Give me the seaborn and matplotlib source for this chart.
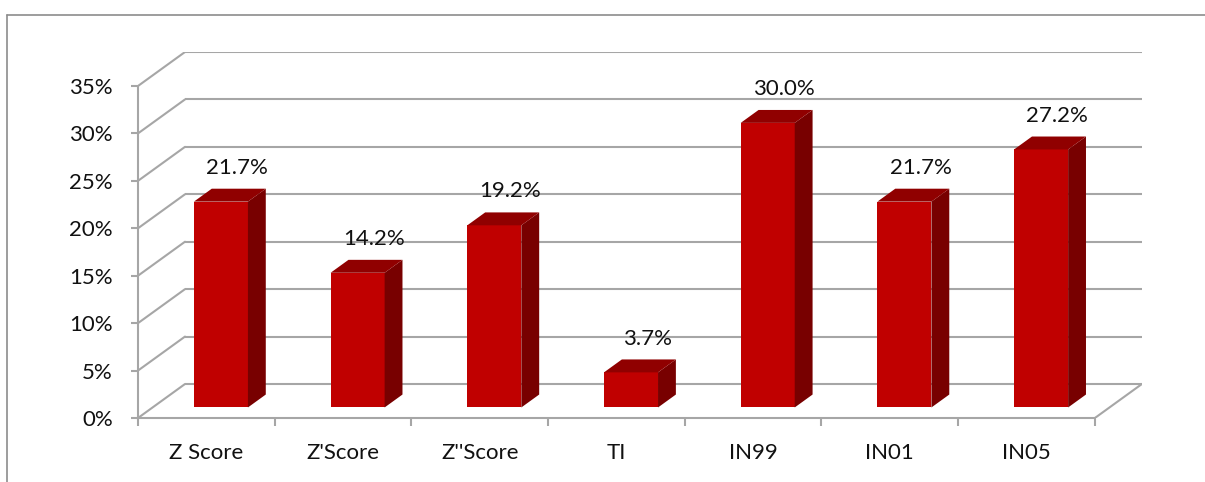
import numpy as np
import matplotlib
matplotlib.use('Agg')
import matplotlib.pyplot as plt
import seaborn as sns
from matplotlib.patches import Polygon
from matplotlib.lines import Line2D
from matplotlib.ticker import FixedLocator

categories = ["Z Score", "Z'Score", "Z''Score", "TI", "IN99", "IN01", "IN05"]
values = [21.7, 14.2, 19.2, 3.7, 30.0, 21.7, 27.2]
y_ticks = [0, 5, 10, 15, 20, 25, 30, 35]
y_tick_labels = [f"{t}%" for t in y_ticks]
value_labels = [f"{v:.1f}%" for v in values]

sns.set_style('white')
plt.rcParams['font.family'] = ['Lato', 'DejaVu Sans']

W, H = 1205, 482
fig = plt.figure(figsize=(W / 100, H / 100), dpi=100)

# pixel geometry of the pseudo-3D frame
x0px, y0px = 138, 418
unit_px = 136.7
pct_px = 47.43 / 5
dxpx, dypx = 47, 34
D = dxpx / unit_px
E = dypx / pct_px
n = len(categories)
ymax = 35
ax = fig.add_axes([x0px / W, (H - y0px) / H,
                   (n * unit_px + dxpx) / W, (ymax * pct_px + dypx) / H])

gc = '#a6a6a6'
glw = 1.5
front_c = '#C00000'
top_c = '#900000'
side_c = '#780000'
text_c = '#111111'
fs = 16

# back wall + left wall grid
for t in y_ticks:
    ax.plot([-0.5 + D, n - 0.5 + D], [t + E, t + E], color=gc, lw=glw, zorder=0,
            solid_capstyle='butt')
    ax.plot([-0.5, -0.5 + D], [t, t + E], color=gc, lw=glw, zorder=0)
# floor right edge
ax.plot([n - 0.5, n - 0.5 + D], [0, E], color=gc, lw=glw, zorder=0)

# bars
bw = 54 / unit_px
f = 0.31
s = 0.38
sns.barplot(x=categories, y=values, color=front_c, saturation=1, width=bw,
            ax=ax, zorder=3, linewidth=0)
for p, lab in zip(ax.patches, value_labels):
    p.set_x(p.get_x() + f * D)
    p.set_y(f * E)
    xl = p.get_x()
    xr = xl + p.get_width()
    yb = p.get_y()
    yt = yb + p.get_height()
    side = Polygon([(xr, yb), (xr + s * D, yb + s * E), (xr + s * D, yt + s * E), (xr, yt)],
                   closed=True, facecolor=side_c, edgecolor='none', zorder=3)
    top = Polygon([(xl, yt), (xl + s * D, yt + s * E), (xr + s * D, yt + s * E), (xr, yt)],
                  closed=True, facecolor=top_c, edgecolor='none', zorder=3)
    ax.add_patch(side)
    ax.add_patch(top)
    ax.text((xl + xr) / 2 + s * D * 0.9, yt + s * E + 1.15, lab, ha='center', va='bottom',
            fontsize=fs, color=text_c, zorder=4)

ax.set_xlim(-0.5, n - 0.5 + D)
ax.set_ylim(0, ymax + E)

for sp in ['top', 'right']:
    ax.spines[sp].set_visible(False)
for sp in ['left', 'bottom']:
    ax.spines[sp].set_visible(True)
    ax.spines[sp].set_color(gc)
    ax.spines[sp].set_linewidth(glw)
    ax.spines[sp].set_zorder(1)
ax.spines['left'].set_bounds(0, ymax)
ax.spines['bottom'].set_bounds(-0.5, n - 0.5)

ax.set_yticks(y_ticks)
ax.set_yticklabels(y_tick_labels)
ax.tick_params(axis='y', left=True, length=5, width=glw, color=gc, pad=13,
               labelsize=fs, labelcolor=text_c)
ax.set_xticks(range(n))
ax.set_xticklabels(categories)
ax.xaxis.set_minor_locator(FixedLocator(np.arange(-0.5, n, 1.0)))
ax.tick_params(axis='x', which='major', bottom=True, length=0, pad=18,
               labelsize=fs, labelcolor=text_c)
ax.tick_params(axis='x', which='minor', bottom=True, length=6, width=glw, color=gc)
ax.set_xlabel('')
ax.set_ylabel('')
ax.grid(False)
ax.set_facecolor('none')

# outer chart frame
fc = '#8c8c8c'
fig.add_artist(Line2D([7 / W, 1], [1 - 15 / H, 1 - 15 / H], transform=fig.transFigure,
                      color=fc, lw=1.2))
fig.add_artist(Line2D([7 / W, 7 / W], [1 - 15 / H, 0], transform=fig.transFigure,
                      color=fc, lw=1.2))

fig.savefig('out.png', dpi=100)
